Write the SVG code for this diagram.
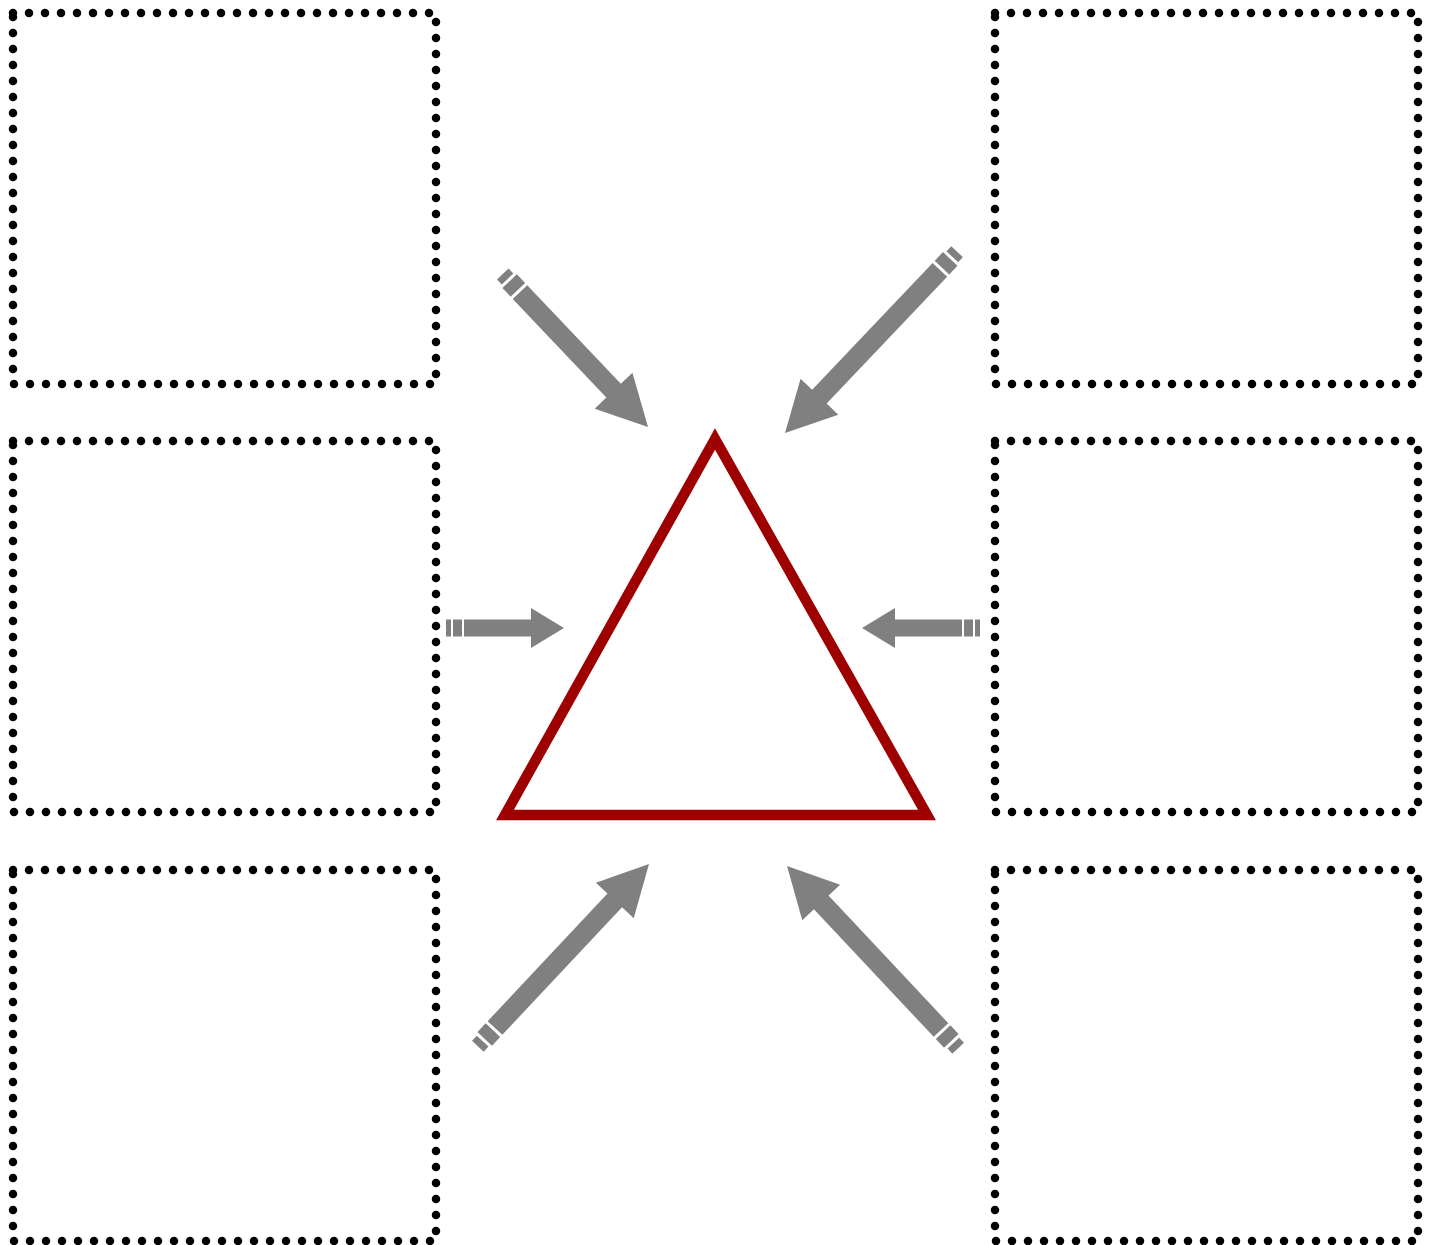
<svg xmlns="http://www.w3.org/2000/svg" width="1431" height="1245" viewBox="0 0 1431 1245">
<defs>
<style>
.box{fill:none;stroke:#000;stroke-width:8.5;stroke-linecap:round;stroke-dasharray:0 16}
.arr{fill:#808080}
.tri{fill:none;stroke:#9E0000;stroke-width:10.5;stroke-linejoin:miter}
</style>
<g id="arrowD">
<rect x="-250" y="-8" width="7" height="16"/>
<rect x="-240" y="-10" width="12" height="20"/>
<path d="M-225,-10 L-50,-10 L-50,-26 L0,0 L-50,26 L-50,10 L-225,10 Z"/>
</g>
<g id="arrowDs">
<rect x="-211" y="-8" width="7" height="16"/>
<rect x="-201" y="-10" width="12" height="20"/>
<path d="M-186,-10 L-50,-10 L-50,-26 L0,0 L-50,26 L-50,10 L-186,10 Z"/>
</g>
<g id="arrowH">
<rect x="-118" y="-8.5" width="5" height="17"/>
<rect x="-111" y="-8.5" width="9" height="17"/>
<path d="M-100,-8.5 L-33,-8.5 L-33,-20 L0,0 L-33,20 L-33,8.5 L-100,8.5 Z"/>
</g>
</defs>
<rect width="1431" height="1245" fill="#fff"/>
<g id="box-tl"><rect class="box" x="13" y="13" width="423" height="371"/></g>
<g id="box-ml"><rect class="box" x="13" y="441" width="423" height="371"/></g>
<g id="box-bl"><rect class="box" x="13" y="870" width="423" height="371"/></g>
<g id="box-tr"><rect class="box" x="995" y="13" width="423" height="371"/></g>
<g id="box-mr"><rect class="box" x="995" y="441" width="423" height="371"/></g>
<g id="box-br"><rect class="box" x="995" y="870" width="423" height="371"/></g>
<g id="triangle"><polygon class="tri" points="715,439 505,815 927,815"/></g>
<g id="connectors" class="arr">
<use href="#arrowDs" transform="translate(648,427) rotate(46.5)"/>
<use href="#arrowD" transform="translate(785,433) rotate(133.5)"/>
<use href="#arrowD" transform="translate(649,864) rotate(-46.8)"/>
<use href="#arrowD" transform="translate(787,866) rotate(-133.2)"/>
<use href="#arrowH" transform="translate(564,628)"/>
<use href="#arrowH" transform="translate(862,628) rotate(180)"/>
</g>
</svg>
